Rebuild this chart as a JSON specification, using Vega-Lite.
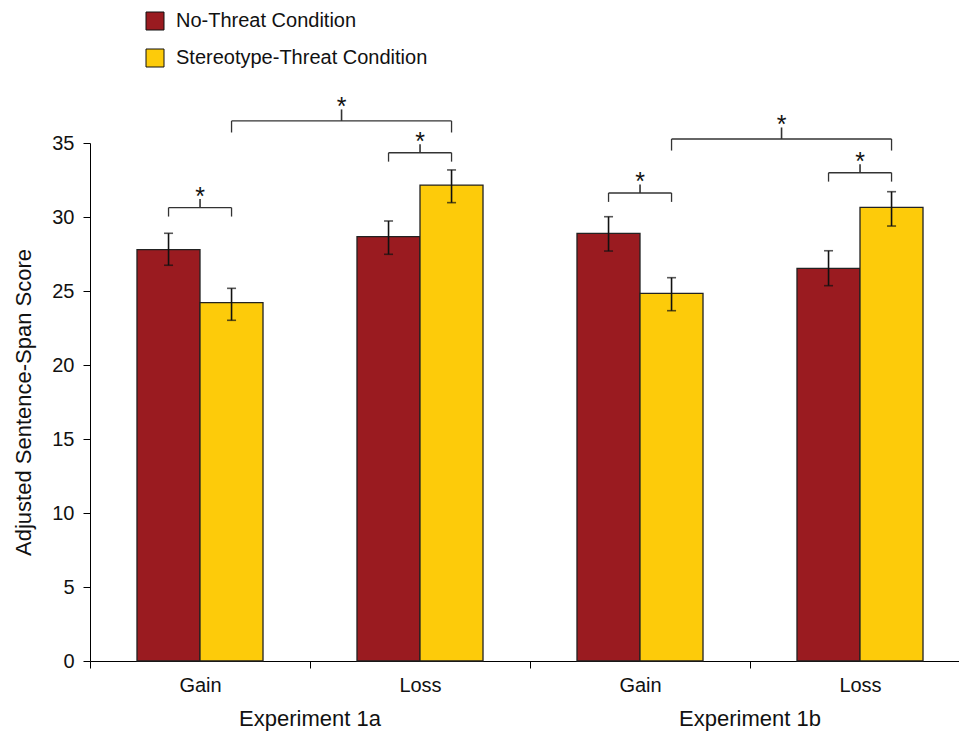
{
  "$schema": "https://vega.github.io/schema/vega-lite/v6.json",
  "autosize": "none",
  "width": 869,
  "height": 518,
  "padding": {"left": 90, "top": 143, "right": 0, "bottom": 71},
  "config": {
    "font": "Liberation Sans, Arial, sans-serif",
    "view": {"stroke": null},
    "axis": {"domainColor": "#000", "tickColor": "#000", "labelColor": "#111", "titleColor": "#111", "grid": false, "domainWidth": 1, "tickWidth": 1}
  },
  "datasets": {
    "bars": [
      {"exp": "Experiment 1a", "frame": "Gain", "cond": "No-Threat Condition", "mean": 27.8, "lo": 26.74, "hi": 28.9},
      {"exp": "Experiment 1a", "frame": "Gain", "cond": "Stereotype-Threat Condition", "mean": 24.21, "lo": 23.02, "hi": 25.18},
      {"exp": "Experiment 1a", "frame": "Loss", "cond": "No-Threat Condition", "mean": 28.67, "lo": 27.48, "hi": 29.73},
      {"exp": "Experiment 1a", "frame": "Loss", "cond": "Stereotype-Threat Condition", "mean": 32.16, "lo": 30.97, "hi": 33.18},
      {"exp": "Experiment 1b", "frame": "Gain", "cond": "No-Threat Condition", "mean": 28.9, "lo": 27.7, "hi": 30.02},
      {"exp": "Experiment 1b", "frame": "Gain", "cond": "Stereotype-Threat Condition", "mean": 24.84, "lo": 23.67, "hi": 25.9},
      {"exp": "Experiment 1b", "frame": "Loss", "cond": "No-Threat Condition", "mean": 26.53, "lo": 25.36, "hi": 27.72},
      {"exp": "Experiment 1b", "frame": "Loss", "cond": "Stereotype-Threat Condition", "mean": 30.65, "lo": 29.39, "hi": 31.71}
    ],
    "sig": [
      {"exp": "Experiment 1a", "f1": "Gain", "c1": "No-Threat Condition", "f2": "Gain", "c2": "Stereotype-Threat Condition", "y": 30.63},
      {"exp": "Experiment 1a", "f1": "Loss", "c1": "No-Threat Condition", "f2": "Loss", "c2": "Stereotype-Threat Condition", "y": 34.34},
      {"exp": "Experiment 1a", "f1": "Gain", "c1": "Stereotype-Threat Condition", "f2": "Loss", "c2": "Stereotype-Threat Condition", "y": 36.49},
      {"exp": "Experiment 1b", "f1": "Gain", "c1": "No-Threat Condition", "f2": "Gain", "c2": "Stereotype-Threat Condition", "y": 31.62},
      {"exp": "Experiment 1b", "f1": "Loss", "c1": "No-Threat Condition", "f2": "Loss", "c2": "Stereotype-Threat Condition", "y": 32.99},
      {"exp": "Experiment 1b", "f1": "Gain", "c1": "Stereotype-Threat Condition", "f2": "Loss", "c2": "Stereotype-Threat Condition", "y": 35.27}
    ],
    "exps": [
      {"exp": "Experiment 1a"},
      {"exp": "Experiment 1b"}
    ]
  },
  "layer": [
    {
      "data": {"name": "bars"},
      "transform": [
        {"calculate": "(datum.exp == 'Experiment 1b' ? 2 : 0) + (datum.frame == 'Loss' ? 1 : 0) + 0.2136 + (datum.cond == 'Stereotype-Threat Condition' ? 0.2864 : 0)", "as": "xs"},
        {"calculate": "datum.xs + 0.2864", "as": "xe"}
      ],
      "mark": {"type": "rect", "stroke": "#222", "strokeWidth": 1.3},
      "encoding": {
        "x": {"field": "xs", "type": "quantitative", "title": null, "scale": {"domain": [0, 3.95], "nice": false, "zero": false},
          "axis": {"title": null, "values": [0, 0.5, 1, 1.5, 2, 2.5, 3, 3.5],
            "labelExpr": "datum.value % 1 == 0 ? '' : (floor(datum.value) % 2 == 0 ? 'Gain' : 'Loss')",
            "tickSize": 7, "tickOpacity": {"condition": {"test": "datum.value % 1 != 0", "value": 0}, "value": 1},
            "labelFontSize": 20, "labelPadding": 7, "labelOverlap": false, "labelFlush": false}},
        "x2": {"field": "xe"},
        "y": {"field": "mean", "type": "quantitative", "title": "Adjusted Sentence-Span Score", "scale": {"domain": [0, 35], "nice": false},
          "axis": {"title": "Adjusted Sentence-Span Score", "values": [0, 5, 10, 15, 20, 25, 30, 35], "tickSize": 7, "labelPadding": 9,
            "labelFontSize": 20, "titleFontSize": 22, "titleFontWeight": "normal", "titlePadding": 16}},
        "y2": {"datum": 0},
        "color": {"field": "cond", "type": "nominal",
          "scale": {"domain": ["No-Threat Condition", "Stereotype-Threat Condition"], "range": ["#9A1B20", "#FDCB0A"]},
          "legend": {"title": null, "orient": "none", "legendX": 55, "legendY": -132, "symbolType": "square", "symbolSize": 324,
            "symbolStrokeColor": "#111", "symbolStrokeWidth": 1, "labelFontSize": 20, "labelColor": "#111", "labelOffset": 11, "rowPadding": 15, "labelLimit": 0}}
      }
    },
    {
      "data": {"name": "bars"},
      "transform": [
        {"calculate": "(datum.exp == 'Experiment 1b' ? 2 : 0) + (datum.frame == 'Loss' ? 1 : 0) + 0.357 + (datum.cond == 'Stereotype-Threat Condition' ? 0.2864 : 0)", "as": "xc"}
      ],
      "mark": {"type": "rule", "color": "#111", "strokeWidth": 1.6},
      "encoding": {
        "x": {"field": "xc", "type": "quantitative", "title": null},
        "y": {"field": "lo", "type": "quantitative", "title": "Adjusted Sentence-Span Score"},
        "y2": {"field": "hi"}
      }
    },
    {
      "data": {"name": "bars"},
      "transform": [
        {"calculate": "(datum.exp == 'Experiment 1b' ? 2 : 0) + (datum.frame == 'Loss' ? 1 : 0) + 0.357 + (datum.cond == 'Stereotype-Threat Condition' ? 0.2864 : 0)", "as": "xc"},
        {"fold": ["lo", "hi"], "as": ["end", "val"]}
      ],
      "mark": {"type": "tick", "orient": "horizontal", "color": "#111", "size": 9, "thickness": 1.6},
      "encoding": {
        "x": {"field": "xc", "type": "quantitative", "title": null},
        "y": {"field": "val", "type": "quantitative", "title": "Adjusted Sentence-Span Score"}
      }
    },
    {
      "data": {"name": "sig"},
      "transform": [
        {"calculate": "(datum.exp == 'Experiment 1b' ? 2 : 0) + (datum.f1 == 'Loss' ? 1 : 0) + 0.357 + (datum.c1 == 'Stereotype-Threat Condition' ? 0.2864 : 0)", "as": "x1"},
        {"calculate": "(datum.exp == 'Experiment 1b' ? 2 : 0) + (datum.f2 == 'Loss' ? 1 : 0) + 0.357 + (datum.c2 == 'Stereotype-Threat Condition' ? 0.2864 : 0)", "as": "x2"}
      ],
      "mark": {"type": "rule", "color": "#333", "strokeWidth": 1.3},
      "encoding": {
        "x": {"field": "x1", "type": "quantitative", "title": null},
        "x2": {"field": "x2"},
        "y": {"field": "y", "type": "quantitative", "title": "Adjusted Sentence-Span Score"}
      }
    },
    {
      "data": {"name": "sig"},
      "transform": [
        {"calculate": "(datum.exp == 'Experiment 1b' ? 2 : 0) + (datum.f1 == 'Loss' ? 1 : 0) + 0.357 + (datum.c1 == 'Stereotype-Threat Condition' ? 0.2864 : 0)", "as": "x1"},
        {"calculate": "(datum.exp == 'Experiment 1b' ? 2 : 0) + (datum.f2 == 'Loss' ? 1 : 0) + 0.357 + (datum.c2 == 'Stereotype-Threat Condition' ? 0.2864 : 0)", "as": "x2"},
        {"calculate": "datum.y - (datum.f1 == datum.f2 ? 0.6 : 0.78)", "as": "yend"},
        {"fold": ["x1", "x2"], "as": ["side", "xx"]}
      ],
      "mark": {"type": "rule", "color": "#333", "strokeWidth": 1.3},
      "encoding": {
        "x": {"field": "xx", "type": "quantitative", "title": null},
        "y": {"field": "y", "type": "quantitative", "title": "Adjusted Sentence-Span Score"},
        "y2": {"field": "yend"}
      }
    },
    {
      "data": {"name": "sig"},
      "transform": [
        {"calculate": "(datum.exp == 'Experiment 1b' ? 2 : 0) + (datum.f1 == 'Loss' ? 1 : 0) + 0.357 + (datum.c1 == 'Stereotype-Threat Condition' ? 0.2864 : 0)", "as": "x1"},
        {"calculate": "(datum.exp == 'Experiment 1b' ? 2 : 0) + (datum.f2 == 'Loss' ? 1 : 0) + 0.357 + (datum.c2 == 'Stereotype-Threat Condition' ? 0.2864 : 0)", "as": "x2"},
        {"calculate": "(datum.x1 + datum.x2) / 2", "as": "xm"},
        {"calculate": "datum.y + (datum.f1 == datum.f2 ? 0.58 : 0.78)", "as": "ypk"}
      ],
      "mark": {"type": "rule", "color": "#333", "strokeWidth": 1.6},
      "encoding": {
        "x": {"field": "xm", "type": "quantitative", "title": null},
        "y": {"field": "y", "type": "quantitative", "title": "Adjusted Sentence-Span Score"},
        "y2": {"field": "ypk"}
      }
    },
    {
      "data": {"name": "sig"},
      "transform": [
        {"calculate": "(datum.exp == 'Experiment 1b' ? 2 : 0) + (datum.f1 == 'Loss' ? 1 : 0) + 0.357 + (datum.c1 == 'Stereotype-Threat Condition' ? 0.2864 : 0)", "as": "x1"},
        {"calculate": "(datum.exp == 'Experiment 1b' ? 2 : 0) + (datum.f2 == 'Loss' ? 1 : 0) + 0.357 + (datum.c2 == 'Stereotype-Threat Condition' ? 0.2864 : 0)", "as": "x2"},
        {"calculate": "(datum.x1 + datum.x2) / 2", "as": "xm"},
        {"calculate": "datum.y + (datum.f1 == datum.f2 ? 0.58 : 0.78)", "as": "ypk"}
      ],
      "mark": {"type": "text", "text": "*", "fontSize": 25, "color": "#111", "baseline": "alphabetic", "dy": 6},
      "encoding": {
        "x": {"field": "xm", "type": "quantitative", "title": null},
        "y": {"field": "ypk", "type": "quantitative", "title": "Adjusted Sentence-Span Score"}
      }
    },
    {
      "data": {"name": "exps"},
      "transform": [
        {"calculate": "datum.exp == 'Experiment 1b' ? 3 : 1", "as": "xe"}
      ],
      "mark": {"type": "text", "fontSize": 22, "color": "#111", "baseline": "middle"},
      "encoding": {
        "x": {"field": "xe", "type": "quantitative", "title": null},
        "y": {"datum": -3.9, "type": "quantitative", "title": "Adjusted Sentence-Span Score"},
        "text": {"field": "exp"}
      }
    }
  ]
}
